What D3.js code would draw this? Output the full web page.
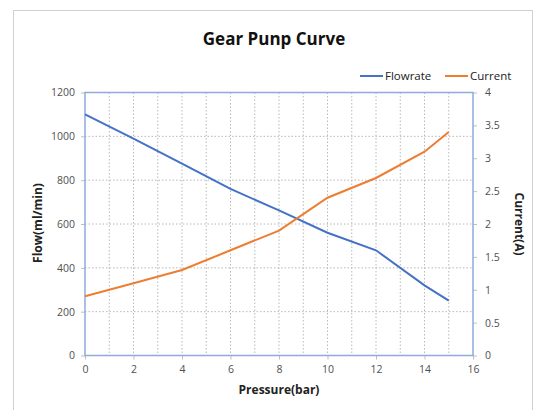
<!DOCTYPE html>
<html>
<head>
<meta charset="utf-8">
<script src="https://cdn.jsdelivr.net/npm/d3@7"></script>
<style>
    body { margin: 0; background: #fff; }
    text { font-family: "Open Sans", sans-serif; }
</style>
</head>
<body>
<div id="chart-container"></div>
<script>
const pressure = [0, 2, 4, 6, 8, 10, 12, 14, 15];
const flowrate = [1100, 990, 875, 760, 662, 560, 480, 320, 250];
const current = [0.9, 1.1, 1.3, 1.6, 1.9, 2.4, 2.7, 3.1, 3.4];
const flowTicks = [0, 200, 400, 600, 800, 1000, 1200];
const currentTicks = [0, 0.5, 1, 1.5, 2, 2.5, 3, 3.5, 4];
const pressureTicks = [0, 2, 4, 6, 8, 10, 12, 14, 16];

let width = 534;
let height = 410;
let margin = ({top: 92.5, right: 61, bottom: 54.5, left: 85});

const blue = "#4472c4";
const orange = "#ed7d31";
const axisColor = "#8faadc";
const labelColor = "#505050";

const svg = d3.select("#chart-container")
    .append("svg")
    .attr("width", width)
    .attr("height", height);

// outer chart frame
svg.append("rect")
    .attr("x", 13.5)
    .attr("y", 10.5)
    .attr("width", 519)
    .attr("height", 420)
    .attr("fill", "none")
    .attr("stroke", "#d0d0d0");

const x = d3.scaleLinear()
    .domain([0, 16])
    .range([margin.left, width - margin.right]);

const yLeft = d3.scaleLinear()
    .domain([0, 1200])
    .range([height - margin.bottom, margin.top]);

const yRight = d3.scaleLinear()
    .domain([0, 4])
    .range([height - margin.bottom, margin.top]);

// gridlines
svg.append("g")
    .attr("class", "grid-x")
    .selectAll("line")
    .data(d3.range(1, 16))
    .join("line")
    .attr("x1", d => x(d))
    .attr("x2", d => x(d))
    .attr("y1", margin.top)
    .attr("y2", height - margin.bottom)
    .attr("stroke", "#b8b8b8")
    .attr("stroke-dasharray", "1.5,2");

svg.append("g")
    .attr("class", "grid-y")
    .selectAll("line")
    .data(flowTicks.slice(1, -1))
    .join("line")
    .attr("x1", margin.left)
    .attr("x2", width - margin.right)
    .attr("y1", d => yLeft(d))
    .attr("y2", d => yLeft(d))
    .attr("stroke", "#b8b8b8")
    .attr("stroke-dasharray", "1.5,2");

// axes
const xAxis = g => g
    .attr("transform", `translate(0,${height - margin.bottom})`)
    .call(d3.axisBottom(x).tickValues(pressureTicks).tickSize(4).tickSizeOuter(0).tickPadding(6));

const leftAxis = g => g
    .attr("transform", `translate(${margin.left},0)`)
    .call(d3.axisLeft(yLeft).tickValues(flowTicks).tickFormat(d3.format("d")).tickSize(4).tickSizeOuter(0).tickPadding(6));

const rightAxis = g => g
    .attr("transform", `translate(${width - margin.right},0)`)
    .call(d3.axisRight(yRight).tickValues(currentTicks).tickFormat(d3.format("")).tickSize(4).tickSizeOuter(0).tickPadding(8));

[xAxis, leftAxis, rightAxis].forEach(ax => {
    const g = svg.append("g").call(ax);
    g.select(".domain").remove();
    g.selectAll(".tick line").attr("stroke", "#bfbfbf");
    g.selectAll(".tick text")
        .attr("fill", labelColor)
        .style("font-size", "10.5px");
});

// plot frame
svg.append("rect")
    .attr("x", margin.left)
    .attr("y", margin.top)
    .attr("width", width - margin.left - margin.right)
    .attr("height", height - margin.top - margin.bottom)
    .attr("fill", "none")
    .attr("stroke", axisColor)
    .attr("stroke-width", 1.5);

// lines
const flowLine = d3.line()
    .x((d, i) => x(pressure[i]))
    .y(d => yLeft(d));

const currentLine = d3.line()
    .x((d, i) => x(pressure[i]))
    .y(d => yRight(d));

svg.append("path")
    .datum(flowrate)
    .attr("fill", "none")
    .attr("stroke", blue)
    .attr("stroke-width", 2)
    .attr("d", flowLine);

svg.append("path")
    .datum(current)
    .attr("fill", "none")
    .attr("stroke", orange)
    .attr("stroke-width", 2)
    .attr("d", currentLine);

// title
svg.append("text")
    .attr("x", 274)
    .attr("y", 45)
    .attr("text-anchor", "middle")
    .style("font-size", "17px")
    .style("font-weight", "bold")
    .attr("fill", "#111")
    .text("Gear Punp Curve");

// axis titles
svg.append("text")
    .attr("x", 279)
    .attr("y", 394)
    .attr("text-anchor", "middle")
    .style("font-size", "12px")
    .style("font-weight", "bold")
    .attr("fill", "#222")
    .text("Pressure(bar)");

svg.append("text")
    .attr("transform", "translate(42,223) rotate(-90)")
    .attr("text-anchor", "middle")
    .style("font-size", "12px")
    .style("font-weight", "bold")
    .attr("fill", "#222")
    .text("Flow(ml/min)");

svg.append("text")
    .attr("transform", "translate(515,224) rotate(90)")
    .attr("text-anchor", "middle")
    .style("font-size", "12px")
    .style("font-weight", "bold")
    .attr("fill", "#222")
    .text("Current(A)");

// legend
const legend = [
    {name: "Flowrate", color: blue, x: 360},
    {name: "Current", color: orange, x: 445}
];

const lg = svg.append("g").selectAll("g")
    .data(legend)
    .join("g")
    .attr("transform", d => `translate(${d.x},76)`);

lg.append("line")
    .attr("x1", 0)
    .attr("x2", 23)
    .attr("stroke", d => d.color)
    .attr("stroke-width", 2);

lg.append("text")
    .attr("x", 25)
    .attr("dy", "0.35em")
    .style("font-size", "11.5px")
    .attr("fill", "#222")
    .text(d => d.name);
</script>
</body>
</html>
